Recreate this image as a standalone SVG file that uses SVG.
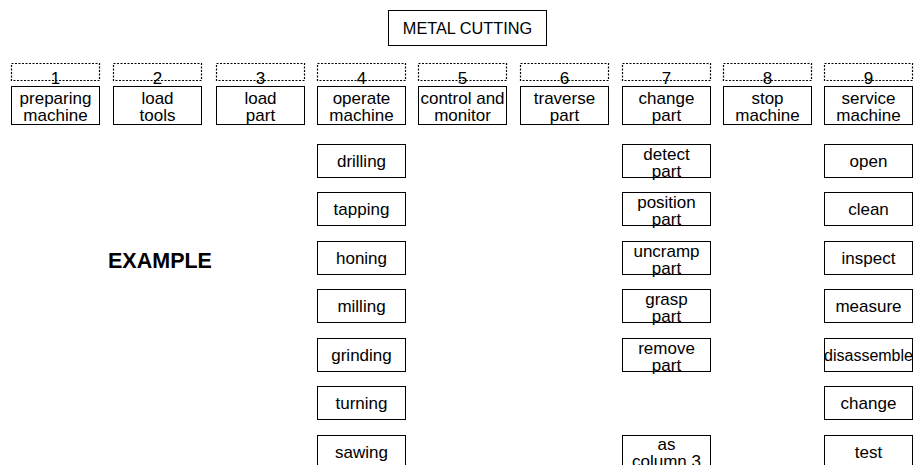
<svg xmlns="http://www.w3.org/2000/svg" width="919" height="465" viewBox="0 0 919 465">
<style>
rect.b{fill:#fff;stroke:#000;stroke-width:1}
rect.d{fill:none;stroke:#000;stroke-width:1.2;stroke-dasharray:2,1.5}
text{font-family:"Liberation Sans",Arial,sans-serif;font-size:17px;fill:#000;text-anchor:middle}
text.t{font-size:16.3px}
text.ex{font-weight:bold;font-size:21.5px}
</style>
<rect width="919" height="465" fill="#fff"/>
<g id="title"><rect class="b" x="388.5" y="10.5" width="158" height="35"/><text class="t" x="467.5" y="34">METAL CUTTING</text></g>
<g id="example"><text class="ex" x="160" y="268">EXAMPLE</text></g>

<g id="n1"><rect class="d" x="11.5" y="63.5" width="88" height="17"/><text x="55.5" y="84">1</text></g>
<g id="n2"><rect class="d" x="113.5" y="63.5" width="88" height="17"/><text x="157.5" y="84">2</text></g>
<g id="n3"><rect class="d" x="216.5" y="63.5" width="88" height="17"/><text x="260.5" y="84">3</text></g>
<g id="n4"><rect class="d" x="317.5" y="63.5" width="88" height="17"/><text x="361.5" y="84">4</text></g>
<g id="n5"><rect class="d" x="418.5" y="63.5" width="88" height="17"/><text x="462.5" y="84">5</text></g>
<g id="n6"><rect class="d" x="520.5" y="63.5" width="88" height="17"/><text x="564.5" y="84">6</text></g>
<g id="n7"><rect class="d" x="622.5" y="63.5" width="88" height="17"/><text x="666.5" y="84">7</text></g>
<g id="n8"><rect class="d" x="723.5" y="63.5" width="88" height="17"/><text x="767.5" y="84">8</text></g>
<g id="n9"><rect class="d" x="824.5" y="63.5" width="88" height="17"/><text x="868.5" y="84">9</text></g>

<g id="c1"><rect class="b" x="11.5" y="86.5" width="88" height="38"/><text x="55.5" y="104">preparing</text><text x="55.5" y="121">machine</text></g>
<g id="c2"><rect class="b" x="113.5" y="86.5" width="88" height="38"/><text x="157.5" y="104">load</text><text x="157.5" y="121">tools</text></g>
<g id="c3"><rect class="b" x="216.5" y="86.5" width="88" height="38"/><text x="260.5" y="104">load</text><text x="260.5" y="121">part</text></g>
<g id="c4"><rect class="b" x="317.5" y="86.5" width="88" height="38"/><text x="361.5" y="104">operate</text><text x="361.5" y="121">machine</text></g>
<g id="c5"><rect class="b" x="418.5" y="86.5" width="88" height="38"/><text x="462.5" y="104">control and</text><text x="462.5" y="121">monitor</text></g>
<g id="c6"><rect class="b" x="520.5" y="86.5" width="88" height="38"/><text x="564.5" y="104">traverse</text><text x="564.5" y="121">part</text></g>
<g id="c7"><rect class="b" x="622.5" y="86.5" width="88" height="38"/><text x="666.5" y="104">change</text><text x="666.5" y="121">part</text></g>
<g id="c8"><rect class="b" x="723.5" y="86.5" width="88" height="38"/><text x="767.5" y="104">stop</text><text x="767.5" y="121">machine</text></g>
<g id="c9"><rect class="b" x="824.5" y="86.5" width="88" height="38"/><text x="868.5" y="104">service</text><text x="868.5" y="121">machine</text></g>

<g id="s4-1"><rect class="b" x="317.5" y="144.5" width="88" height="33"/><text x="361.5" y="167">drilling</text></g>
<g id="s4-2"><rect class="b" x="317.5" y="192.5" width="88" height="33"/><text x="361.5" y="215">tapping</text></g>
<g id="s4-3"><rect class="b" x="317.5" y="241.5" width="88" height="33"/><text x="361.5" y="264">honing</text></g>
<g id="s4-4"><rect class="b" x="317.5" y="289.5" width="88" height="33"/><text x="361.5" y="312">milling</text></g>
<g id="s4-5"><rect class="b" x="317.5" y="338.5" width="88" height="33"/><text x="361.5" y="361">grinding</text></g>
<g id="s4-6"><rect class="b" x="317.5" y="386.5" width="88" height="33"/><text x="361.5" y="409">turning</text></g>
<g id="s4-7"><rect class="b" x="317.5" y="435.5" width="88" height="33"/><text x="361.5" y="458">sawing</text></g>

<g id="s7-1"><rect class="b" x="622.5" y="144.5" width="88" height="33"/><text x="666.5" y="160">detect</text><text x="666.5" y="177">part</text></g>
<g id="s7-2"><rect class="b" x="622.5" y="192.5" width="88" height="33"/><text x="666.5" y="208">position</text><text x="666.5" y="225">part</text></g>
<g id="s7-3"><rect class="b" x="622.5" y="241.5" width="88" height="33"/><text x="666.5" y="257">uncramp</text><text x="666.5" y="274">part</text></g>
<g id="s7-4"><rect class="b" x="622.5" y="289.5" width="88" height="33"/><text x="666.5" y="305">grasp</text><text x="666.5" y="322">part</text></g>
<g id="s7-5"><rect class="b" x="622.5" y="338.5" width="88" height="33"/><text x="666.5" y="354">remove</text><text x="666.5" y="371">part</text></g>
<g id="s7-6"><rect class="b" x="622.5" y="435.5" width="88" height="33"/><text x="666.5" y="450">as</text><text x="666.5" y="467">column 3</text></g>

<g id="s9-1"><rect class="b" x="824.5" y="144.5" width="88" height="33"/><text x="868.5" y="167">open</text></g>
<g id="s9-2"><rect class="b" x="824.5" y="192.5" width="88" height="33"/><text x="868.5" y="215">clean</text></g>
<g id="s9-3"><rect class="b" x="824.5" y="241.5" width="88" height="33"/><text x="868.5" y="264">inspect</text></g>
<g id="s9-4"><rect class="b" x="824.5" y="289.5" width="88" height="33"/><text x="868.5" y="312">measure</text></g>
<g id="s9-5"><rect class="b" x="824.5" y="338.5" width="88" height="33"/><text x="868.5" y="361" style="font-size:16px">disassemble</text></g>
<g id="s9-6"><rect class="b" x="824.5" y="386.5" width="88" height="33"/><text x="868.5" y="409">change</text></g>
<g id="s9-7"><rect class="b" x="824.5" y="435.5" width="88" height="33"/><text x="868.5" y="458">test</text></g>
</svg>
